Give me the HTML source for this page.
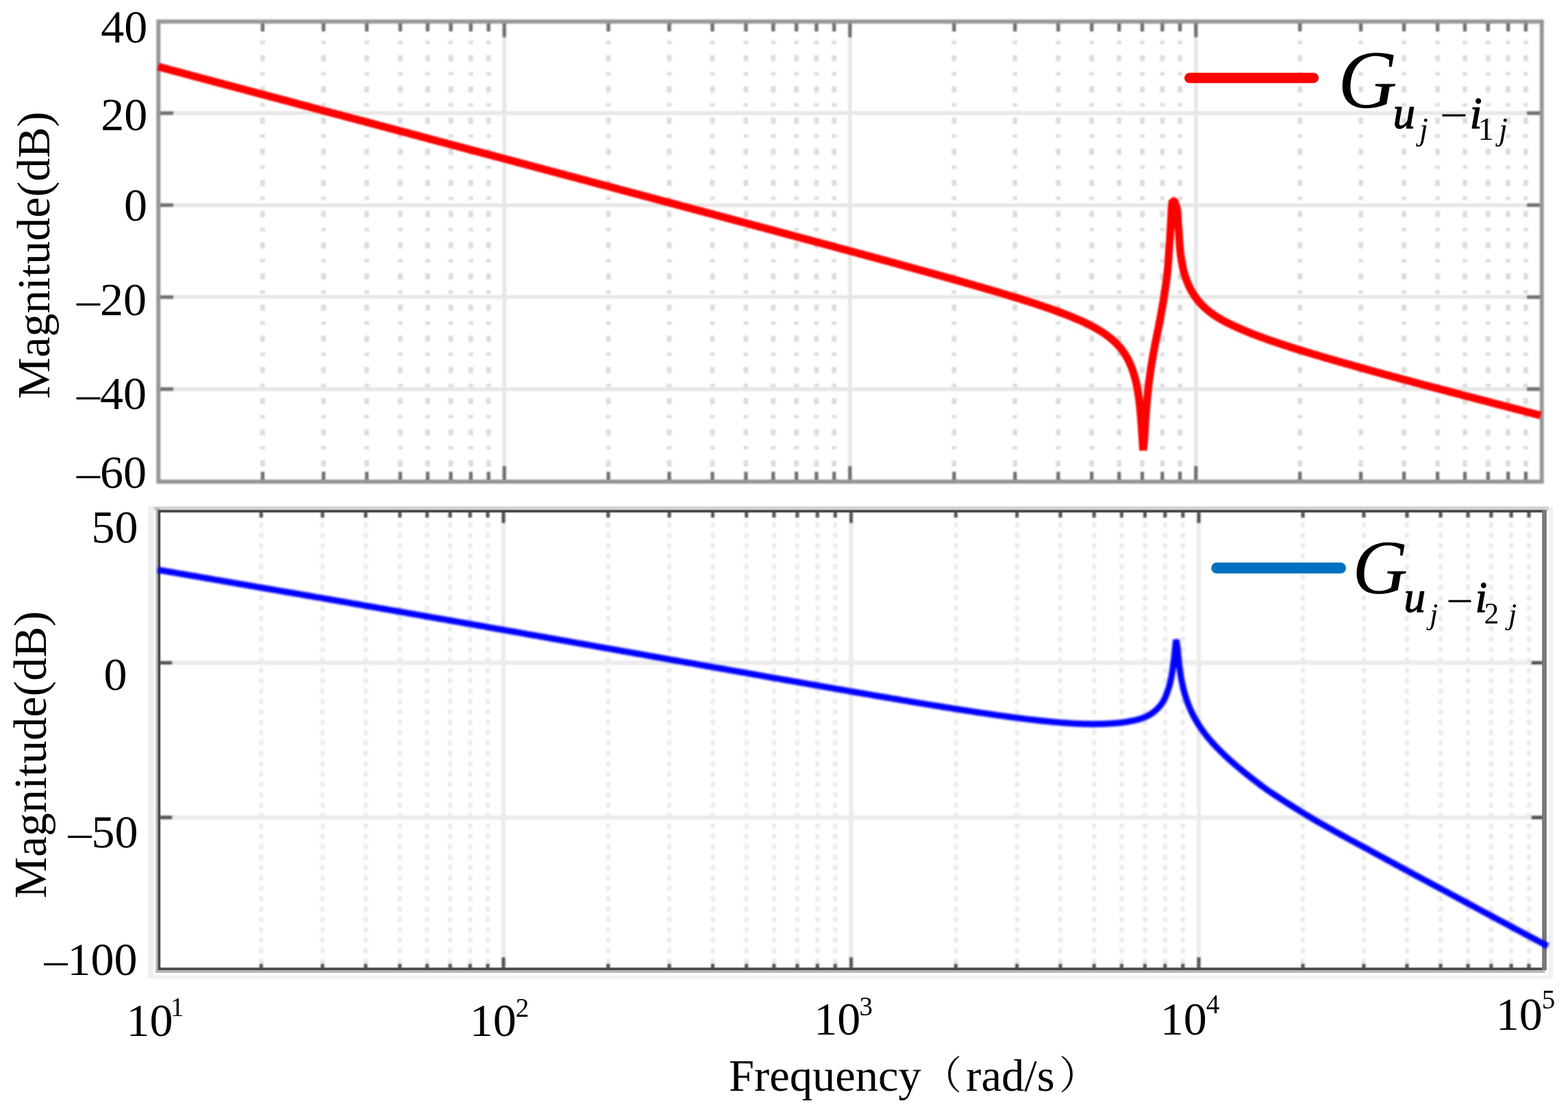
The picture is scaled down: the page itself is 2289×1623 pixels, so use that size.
<!DOCTYPE html>
<html lang="en"><head><meta charset="utf-8"><title>Bode magnitude plots</title>
<style>html,body{margin:0;padding:0;background:#fff}body{width:2289px;height:1623px;overflow:hidden}svg{display:block}</style></head>
<body>
<svg width="2289" height="1623" viewBox="0 0 2289 1623">
<defs><filter id="b1" filterUnits="userSpaceOnUse" x="0" y="0" width="2289" height="1623"><feGaussianBlur stdDeviation="1.3"/></filter><filter id="b2" filterUnits="userSpaceOnUse" x="0" y="0" width="2289" height="1623"><feGaussianBlur stdDeviation="1.0"/></filter><filter id="b3" filterUnits="userSpaceOnUse" x="0" y="0" width="2289" height="1623"><feGaussianBlur stdDeviation="0.6"/></filter><filter id="b4" filterUnits="userSpaceOnUse" x="0" y="0" width="2289" height="1623"><feGaussianBlur stdDeviation="1.6"/></filter></defs>
<rect width="2289" height="1623" fill="#fff"/>
<g filter="url(#b1)">
<g stroke="#dcdcdc" stroke-width="6.8" stroke-dasharray="9 15.5 5 16" stroke-dashoffset="-3.50" fill="none">
<path d="M383.4 31.5V703.0M472.3 31.5V703.0M535.4 31.5V703.0M584.3 31.5V703.0M624.3 31.5V703.0M658.1 31.5V703.0M687.3 31.5V703.0M713.2 31.5V703.0M888.1 31.5V703.0M977.0 31.5V703.0M1040.0 31.5V703.0M1088.9 31.5V703.0M1128.8 31.5V703.0M1162.6 31.5V703.0M1191.9 31.5V703.0M1217.7 31.5V703.0M1392.8 31.5V703.0M1481.7 31.5V703.0M1544.8 31.5V703.0M1593.7 31.5V703.0M1633.7 31.5V703.0M1667.5 31.5V703.0M1696.8 31.5V703.0M1722.6 31.5V703.0M1897.7 31.5V703.0M1986.6 31.5V703.0M2049.6 31.5V703.0M2098.6 31.5V703.0M2138.5 31.5V703.0M2172.3 31.5V703.0M2201.6 31.5V703.0M2227.4 31.5V703.0"/>
</g>
<g stroke="#e6e6e6" stroke-width="5.5" fill="none">
<path d="M736.2 31.5V703.0M1240.8 31.5V703.0M1745.8 31.5V703.0M231.2 165.1H2250.8M231.2 299.4H2250.8M231.2 433.6H2250.8M231.2 567.9H2250.8"/>
</g>
<g stroke="#6e6e6e" stroke-width="5.2" fill="none">
<path d="M383.4 31.5v14.5M383.4 703.0v-14.5M472.3 31.5v14.5M472.3 703.0v-14.5M535.4 31.5v14.5M535.4 703.0v-14.5M584.3 31.5v14.5M584.3 703.0v-14.5M624.3 31.5v14.5M624.3 703.0v-14.5M658.1 31.5v14.5M658.1 703.0v-14.5M687.3 31.5v14.5M687.3 703.0v-14.5M713.2 31.5v14.5M713.2 703.0v-14.5M888.1 31.5v14.5M888.1 703.0v-14.5M977.0 31.5v14.5M977.0 703.0v-14.5M1040.0 31.5v14.5M1040.0 703.0v-14.5M1088.9 31.5v14.5M1088.9 703.0v-14.5M1128.8 31.5v14.5M1128.8 703.0v-14.5M1162.6 31.5v14.5M1162.6 703.0v-14.5M1191.9 31.5v14.5M1191.9 703.0v-14.5M1217.7 31.5v14.5M1217.7 703.0v-14.5M1392.8 31.5v14.5M1392.8 703.0v-14.5M1481.7 31.5v14.5M1481.7 703.0v-14.5M1544.8 31.5v14.5M1544.8 703.0v-14.5M1593.7 31.5v14.5M1593.7 703.0v-14.5M1633.7 31.5v14.5M1633.7 703.0v-14.5M1667.5 31.5v14.5M1667.5 703.0v-14.5M1696.8 31.5v14.5M1696.8 703.0v-14.5M1722.6 31.5v14.5M1722.6 703.0v-14.5M1897.7 31.5v14.5M1897.7 703.0v-14.5M1986.6 31.5v14.5M1986.6 703.0v-14.5M2049.6 31.5v14.5M2049.6 703.0v-14.5M2098.6 31.5v14.5M2098.6 703.0v-14.5M2138.5 31.5v14.5M2138.5 703.0v-14.5M2172.3 31.5v14.5M2172.3 703.0v-14.5M2201.6 31.5v14.5M2201.6 703.0v-14.5M2227.4 31.5v14.5M2227.4 703.0v-14.5M736.2 31.5v23.0M736.2 703.0v-23.0M1240.8 31.5v23.0M1240.8 703.0v-23.0M1745.8 31.5v23.0M1745.8 703.0v-23.0M231.2 165.1h22.0M2250.8 165.1h-22.0M231.2 299.4h22.0M2250.8 299.4h-22.0M231.2 433.6h22.0M2250.8 433.6h-22.0M231.2 567.9h22.0M2250.8 567.9h-22.0"/>
</g>
<rect x="231.25" y="31.50" width="2019.50" height="671.50" fill="none" stroke="#969696" stroke-width="6"/>
</g>
<path d="M230.9 97.3 L234.9 98.4 L238.9 99.5 L242.9 100.5 L246.9 101.6 L250.9 102.7 L254.9 103.7 L258.9 104.8 L262.9 105.8 L266.9 106.9 L270.9 108.0 L274.9 109.0 L278.9 110.1 L282.9 111.2 L286.9 112.2 L290.9 113.3 L294.9 114.4 L298.9 115.4 L302.9 116.5 L306.9 117.5 L310.9 118.6 L314.9 119.7 L318.9 120.7 L322.9 121.8 L326.9 122.9 L330.9 123.9 L334.9 125.0 L338.9 126.1 L342.9 127.1 L346.9 128.2 L350.9 129.3 L354.9 130.3 L358.9 131.4 L362.9 132.4 L366.9 133.5 L370.9 134.6 L374.9 135.6 L378.9 136.7 L382.9 137.8 L386.9 138.8 L390.9 139.9 L394.9 141.0 L398.9 142.0 L402.9 143.1 L406.9 144.1 L410.9 145.2 L414.9 146.3 L418.9 147.3 L422.9 148.4 L426.9 149.5 L430.9 150.5 L434.9 151.6 L438.9 152.7 L442.9 153.7 L446.9 154.8 L450.9 155.8 L454.9 156.9 L458.9 158.0 L462.9 159.0 L466.9 160.1 L470.9 161.2 L474.9 162.2 L478.9 163.3 L482.9 164.4 L486.9 165.4 L490.9 166.5 L494.9 167.6 L498.9 168.6 L502.9 169.7 L506.9 170.7 L510.9 171.8 L515.0 172.9 L519.0 173.9 L523.0 175.0 L527.0 176.1 L531.0 177.1 L535.0 178.2 L539.0 179.3 L543.0 180.3 L547.0 181.4 L551.0 182.4 L555.0 183.5 L559.0 184.6 L563.0 185.6 L567.0 186.7 L571.0 187.8 L575.0 188.8 L579.0 189.9 L583.0 191.0 L587.0 192.0 L591.0 193.1 L595.0 194.1 L599.0 195.2 L603.0 196.3 L607.0 197.3 L611.0 198.4 L615.0 199.5 L619.0 200.5 L623.0 201.6 L627.0 202.7 L631.0 203.7 L635.0 204.8 L639.0 205.9 L643.0 206.9 L647.0 208.0 L651.0 209.0 L655.0 210.1 L659.0 211.2 L663.0 212.2 L667.0 213.3 L671.0 214.4 L675.0 215.4 L679.0 216.5 L683.0 217.6 L687.0 218.6 L691.0 219.7 L695.0 220.7 L699.0 221.8 L703.0 222.9 L707.0 223.9 L711.0 225.0 L715.0 226.1 L719.0 227.1 L723.0 228.2 L727.0 229.3 L731.0 230.3 L735.0 231.4 L739.0 232.5 L743.0 233.5 L747.0 234.6 L751.0 235.6 L755.0 236.7 L759.0 237.8 L763.0 238.8 L767.0 239.9 L771.0 241.0 L775.0 242.0 L779.0 243.1 L783.0 244.2 L787.0 245.2 L791.0 246.3 L795.0 247.4 L799.0 248.4 L803.0 249.5 L807.0 250.6 L811.0 251.6 L815.0 252.7 L819.0 253.7 L823.0 254.8 L827.0 255.9 L831.0 256.9 L835.0 258.0 L839.0 259.1 L843.0 260.1 L847.0 261.2 L851.0 262.3 L855.0 263.3 L859.0 264.4 L863.0 265.5 L867.0 266.5 L871.0 267.6 L875.0 268.7 L879.0 269.7 L883.0 270.8 L887.0 271.8 L891.0 272.9 L895.0 274.0 L899.0 275.0 L903.0 276.1 L907.0 277.2 L911.0 278.2 L915.0 279.3 L919.0 280.4 L923.0 281.4 L927.0 282.5 L931.0 283.6 L935.0 284.6 L939.0 285.7 L943.0 286.8 L947.0 287.8 L951.0 288.9 L955.0 290.0 L959.0 291.0 L963.0 292.1 L967.0 293.2 L971.0 294.2 L975.0 295.3 L979.0 296.3 L983.0 297.4 L987.0 298.5 L991.0 299.5 L995.0 300.6 L999.0 301.7 L1003.0 302.7 L1007.0 303.8 L1011.0 304.9 L1015.0 305.9 L1019.0 307.0 L1023.0 308.1 L1027.0 309.1 L1031.0 310.2 L1035.0 311.3 L1039.0 312.3 L1043.0 313.4 L1047.0 314.5 L1051.0 315.5 L1055.0 316.6 L1059.0 317.7 L1063.0 318.7 L1067.0 319.8 L1071.0 320.9 L1075.0 321.9 L1079.0 323.0 L1083.0 324.1 L1087.0 325.1 L1091.0 326.2 L1095.0 327.3 L1099.0 328.4 L1103.0 329.4 L1107.0 330.5 L1111.0 331.6 L1115.0 332.6 L1119.0 333.7 L1123.0 334.8 L1127.0 335.8 L1131.0 336.9 L1135.0 338.0 L1139.0 339.0 L1143.0 340.1 L1147.0 341.2 L1151.0 342.3 L1155.0 343.3 L1159.0 344.4 L1163.0 345.5 L1167.0 346.5 L1171.0 347.6 L1175.0 348.7 L1179.0 349.8 L1183.0 350.8 L1187.0 351.9 L1191.0 353.0 L1195.0 354.0 L1199.0 355.1 L1203.0 356.2 L1207.0 357.3 L1211.0 358.3 L1215.0 359.4 L1219.0 360.5 L1223.0 361.6 L1227.0 362.7 L1231.0 363.7 L1235.0 364.8 L1239.0 365.9 L1243.0 367.0 L1247.0 368.0 L1251.0 369.1 L1255.0 370.2 L1259.0 371.3 L1263.0 372.4 L1267.0 373.4 L1271.0 374.5 L1275.0 375.6 L1279.0 376.7 L1283.0 377.8 L1287.0 378.9 L1291.0 379.9 L1295.0 381.0 L1299.0 382.1 L1303.0 383.2 L1307.0 384.3 L1311.0 385.4 L1315.0 386.5 L1319.0 387.6 L1323.0 388.7 L1327.0 389.8 L1331.0 390.9 L1335.0 392.0 L1339.0 393.1 L1343.0 394.2 L1347.0 395.3 L1351.0 396.4 L1355.0 397.5 L1359.0 398.6 L1363.0 399.7 L1367.0 400.8 L1371.0 401.9 L1375.0 403.0 L1379.0 404.2 L1383.0 405.3 L1387.0 406.4 L1391.0 407.5 L1395.0 408.7 L1399.0 409.8 L1403.0 410.9 L1407.0 412.1 L1411.0 413.2 L1415.0 414.3 L1419.1 415.5 L1423.1 416.6 L1427.1 417.8 L1431.2 419.0 L1435.2 420.1 L1439.2 421.3 L1443.2 422.5 L1447.3 423.6 L1451.3 424.8 L1455.3 426.0 L1459.3 427.2 L1463.4 428.4 L1467.4 429.6 L1471.4 430.8 L1475.4 432.0 L1479.5 433.3 L1483.5 434.5 L1487.5 435.7 L1491.5 437.0 L1495.6 438.3 L1499.6 439.5 L1503.6 440.8 L1507.6 442.1 L1511.7 443.4 L1515.7 444.8 L1519.7 446.1 L1523.7 447.5 L1527.8 448.9 L1531.8 450.2 L1535.8 451.7 L1539.9 453.1 L1543.9 454.6 L1547.9 456.1 L1551.9 457.6 L1556.0 459.1 L1560.0 460.7 L1564.0 462.3 L1568.0 464.0 L1572.1 465.7 L1576.1 467.4 L1580.1 469.2 L1584.1 471.1 L1588.2 473.1 L1592.2 475.1 L1592.6 475.3 L1593.0 475.5 L1593.4 475.7 L1593.8 475.9 L1594.2 476.1 L1594.6 476.4 L1595.0 476.6 L1595.4 476.8 L1595.8 477.0 L1596.2 477.2 L1596.6 477.4 L1597.0 477.6 L1597.4 477.9 L1597.8 478.1 L1598.2 478.3 L1598.6 478.5 L1599.0 478.8 L1599.4 479.0 L1599.8 479.2 L1600.2 479.4 L1600.6 479.7 L1601.0 479.9 L1601.4 480.1 L1601.8 480.4 L1602.2 480.6 L1602.6 480.8 L1603.0 481.1 L1603.4 481.3 L1603.8 481.5 L1604.2 481.8 L1604.6 482.0 L1605.0 482.3 L1605.4 482.5 L1605.8 482.7 L1606.2 483.0 L1606.6 483.2 L1607.0 483.5 L1607.4 483.7 L1607.8 484.0 L1608.2 484.2 L1608.6 484.5 L1609.0 484.8 L1609.4 485.0 L1609.8 485.3 L1610.2 485.5 L1610.6 485.8 L1611.0 486.1 L1611.4 486.3 L1611.8 486.6 L1612.2 486.9 L1612.6 487.2 L1613.0 487.4 L1613.3 487.7 L1613.7 488.0 L1614.1 488.3 L1614.5 488.5 L1614.9 488.8 L1615.3 489.1 L1615.7 489.4 L1616.1 489.7 L1616.5 490.0 L1616.9 490.3 L1617.3 490.6 L1617.7 490.9 L1618.1 491.2 L1618.5 491.5 L1618.9 491.8 L1619.3 492.1 L1619.7 492.4 L1620.1 492.7 L1620.5 493.1 L1620.9 493.4 L1621.3 493.7 L1621.7 494.0 L1622.1 494.4 L1622.5 494.7 L1622.9 495.0 L1623.3 495.4 L1623.7 495.7 L1624.1 496.1 L1624.5 496.4 L1624.9 496.8 L1625.2 497.1 L1625.6 497.5 L1626.0 497.8 L1626.4 498.2 L1626.8 498.6 L1627.2 499.0 L1627.6 499.3 L1628.0 499.7 L1628.4 500.1 L1628.8 500.5 L1629.2 500.9 L1629.6 501.3 L1630.0 501.7 L1630.4 502.1 L1630.8 502.5 L1631.2 502.9 L1631.6 503.3 L1632.0 503.8 L1632.4 504.2 L1632.8 504.6 L1633.2 505.1 L1633.6 505.5 L1634.0 506.0 L1634.4 506.4 L1634.8 506.9 L1635.2 507.4 L1635.6 507.8 L1636.0 508.3 L1636.4 508.8 L1636.8 509.3 L1637.1 509.8 L1637.5 510.3 L1637.9 510.8 L1638.3 511.4 L1638.7 511.9 L1639.1 512.4 L1639.5 513.0 L1639.9 513.5 L1640.3 514.1 L1640.7 514.7 L1641.1 515.3 L1641.5 515.9 L1641.9 516.5 L1642.3 517.1 L1642.7 517.7 L1643.1 518.3 L1643.5 519.0 L1643.9 519.7 L1644.3 520.3 L1644.7 521.0 L1645.1 521.7 L1645.5 522.4 L1645.9 523.1 L1646.3 523.9 L1646.7 524.6 L1647.1 525.4 L1647.5 526.2 L1647.9 527.0 L1648.1 527.4 L1648.3 527.8 L1648.5 528.2 L1648.7 528.6 L1648.9 529.0 L1649.0 529.5 L1649.2 529.9 L1649.4 530.3 L1649.6 530.8 L1649.8 531.2 L1650.0 531.7 L1650.2 532.1 L1650.4 532.6 L1650.6 533.1 L1650.8 533.6 L1651.0 534.0 L1651.2 534.5 L1651.4 535.0 L1651.6 535.5 L1651.8 536.0 L1652.0 536.5 L1652.2 537.1 L1652.4 537.6 L1652.6 538.1 L1652.8 538.7 L1653.0 539.2 L1653.2 539.8 L1653.4 540.3 L1653.6 540.9 L1653.8 541.5 L1654.0 542.1 L1654.2 542.7 L1654.4 543.3 L1654.6 543.9 L1654.8 544.5 L1655.0 545.2 L1655.2 545.8 L1655.4 546.5 L1655.6 547.1 L1655.8 547.8 L1656.0 548.5 L1656.2 549.2 L1656.4 549.9 L1656.6 550.6 L1656.8 551.3 L1657.0 552.1 L1657.2 552.9 L1657.4 553.6 L1657.6 554.4 L1657.8 555.2 L1658.0 556.0 L1658.2 556.9 L1658.4 557.7 L1658.6 558.6 L1658.8 559.5 L1659.0 560.4 L1659.2 561.3 L1659.4 562.2 L1659.6 563.2 L1659.8 564.2 L1660.0 565.2 L1660.2 566.2 L1660.4 567.2 L1660.6 568.3 L1660.8 569.4 L1660.9 570.5 L1661.1 571.7 L1661.3 572.9 L1661.5 574.1 L1661.7 575.3 L1661.9 576.6 L1662.1 577.9 L1662.3 579.2 L1662.5 580.6 L1662.7 582.0 L1662.9 583.5 L1663.0 585.0 L1663.2 586.5 L1663.4 588.1 L1663.6 589.8 L1663.8 591.5 L1664.0 593.2 L1664.2 595.1 L1664.4 596.9 L1664.6 598.9 L1664.8 600.9 L1664.9 603.0 L1665.1 605.1 L1665.3 607.4 L1665.5 609.7 L1665.7 612.1 L1665.9 614.6 L1666.1 617.2 L1666.3 619.8 L1666.5 622.6 L1666.7 625.5 L1666.9 628.4 L1667.0 631.5 L1667.2 634.5 L1667.4 637.6 L1667.6 640.7 L1668.9 657.2 L1670.4 641.9 L1670.6 638.5 L1670.9 634.9 L1671.1 631.4 L1671.3 627.9 L1671.5 624.4 L1671.7 621.0 L1671.9 617.6 L1672.1 614.4 L1672.3 611.2 L1672.6 608.2 L1672.8 605.2 L1673.0 602.3 L1673.2 599.6 L1673.4 596.9 L1673.6 594.2 L1673.8 591.7 L1674.0 589.2 L1674.3 586.8 L1674.5 584.5 L1674.7 582.2 L1674.9 580.0 L1675.1 577.8 L1675.3 575.7 L1675.5 573.6 L1675.7 571.6 L1675.9 569.7 L1676.2 567.7 L1676.4 565.8 L1676.6 564.0 L1676.8 562.2 L1677.0 560.4 L1677.2 558.7 L1677.4 557.0 L1677.6 555.3 L1677.9 553.7 L1678.1 552.0 L1678.3 550.4 L1678.5 548.9 L1678.7 547.3 L1678.9 545.8 L1679.1 544.3 L1679.3 542.9 L1679.6 541.4 L1679.8 540.0 L1680.0 538.6 L1680.2 537.2 L1680.4 535.8 L1680.6 534.4 L1680.8 533.1 L1681.0 531.7 L1681.3 530.4 L1681.5 529.1 L1681.7 527.8 L1681.9 526.6 L1682.1 525.3 L1682.3 524.0 L1682.5 522.8 L1682.7 521.6 L1682.9 520.4 L1683.2 519.2 L1683.4 518.0 L1683.6 516.8 L1683.8 515.6 L1684.0 514.4 L1684.2 513.3 L1684.4 512.1 L1684.6 511.0 L1684.9 509.8 L1685.1 508.7 L1685.3 507.6 L1685.5 506.5 L1685.7 505.4 L1685.9 504.3 L1686.1 503.2 L1686.3 502.1 L1686.6 501.0 L1686.8 499.9 L1687.0 498.8 L1687.2 497.8 L1687.4 496.7 L1687.6 495.6 L1687.8 494.6 L1688.0 493.5 L1688.3 492.5 L1688.5 491.4 L1688.7 490.4 L1688.9 489.3 L1689.1 488.3 L1689.3 487.3 L1689.5 486.2 L1689.7 485.2 L1689.9 484.2 L1690.2 483.1 L1690.4 482.1 L1690.6 481.1 L1690.8 480.1 L1691.0 479.0 L1691.2 478.0 L1691.4 477.0 L1691.6 476.0 L1691.8 475.0 L1692.0 473.9 L1692.2 472.9 L1692.4 471.9 L1692.6 470.9 L1692.8 469.9 L1693.0 468.8 L1693.2 467.8 L1693.4 466.8 L1693.5 465.8 L1693.7 464.7 L1693.9 463.7 L1694.1 462.7 L1694.3 461.7 L1694.5 460.6 L1694.7 459.6 L1694.9 458.5 L1695.1 457.5 L1695.2 456.5 L1695.4 455.4 L1695.6 454.4 L1695.8 453.3 L1696.0 452.2 L1696.2 451.2 L1696.4 450.1 L1696.6 449.0 L1696.8 448.0 L1697.0 446.9 L1697.1 445.8 L1697.3 444.7 L1697.5 443.6 L1697.7 442.5 L1697.9 441.4 L1698.1 440.3 L1698.3 439.2 L1698.5 438.0 L1698.7 436.9 L1698.8 435.7 L1699.0 434.6 L1699.2 433.4 L1699.4 432.3 L1699.6 431.1 L1699.8 429.9 L1700.0 428.7 L1700.2 427.5 L1700.4 426.3 L1700.5 425.1 L1700.7 423.8 L1700.9 422.6 L1701.1 421.3 L1701.3 420.0 L1701.5 418.7 L1701.7 417.4 L1701.9 416.1 L1702.1 414.8 L1702.2 413.4 L1702.4 412.1 L1702.6 410.7 L1702.8 409.3 L1703.0 407.9 L1703.2 406.4 L1703.4 405.0 L1703.6 403.5 L1703.8 402.0 L1704.0 400.5 L1704.1 398.9 L1704.2 397.4 L1704.4 395.8 L1704.5 394.1 L1704.7 392.5 L1704.8 390.8 L1704.9 389.1 L1705.1 387.4 L1705.2 385.6 L1705.4 383.8 L1705.5 381.9 L1705.6 380.0 L1705.8 378.1 L1705.9 376.1 L1706.1 374.1 L1706.2 372.0 L1706.3 369.9 L1706.5 367.7 L1706.6 365.5 L1706.8 363.2 L1706.9 360.9 L1707.1 358.4 L1707.3 355.9 L1707.5 353.4 L1707.7 350.7 L1707.9 348.0 L1708.1 345.2 L1708.2 342.3 L1708.4 339.3 L1708.6 336.2 L1708.8 333.0 L1709.0 329.7 L1709.2 326.3 L1709.4 322.8 L1709.6 319.3 L1709.7 315.7 L1709.9 312.0 L1710.1 308.4 L1710.3 304.9 L1711.4 293.0 L1714.4 293.4 L1717.9 303.4 L1718.5 306.6 L1718.8 309.8 L1719.0 313.0 L1719.2 316.1 L1719.4 319.2 L1719.6 322.2 L1719.8 325.1 L1720.0 327.9 L1720.2 330.6 L1720.4 333.2 L1720.6 335.7 L1720.8 338.2 L1721.0 340.5 L1721.1 342.7 L1721.2 344.9 L1721.4 347.0 L1721.5 349.0 L1721.7 351.0 L1721.8 352.9 L1721.9 354.7 L1722.1 356.4 L1722.2 358.1 L1722.4 359.8 L1722.5 361.4 L1722.6 363.0 L1722.8 364.5 L1722.9 365.9 L1723.1 367.3 L1723.2 368.7 L1723.4 370.1 L1723.6 371.4 L1723.8 372.7 L1723.9 373.9 L1724.1 375.1 L1724.3 376.3 L1724.5 377.4 L1724.6 378.6 L1724.8 379.7 L1725.0 380.7 L1725.2 381.8 L1725.4 382.8 L1725.5 383.8 L1725.7 384.8 L1725.9 385.7 L1726.1 386.7 L1726.2 387.6 L1726.4 388.5 L1726.6 389.4 L1726.8 390.3 L1726.9 391.1 L1727.1 391.9 L1727.3 392.8 L1727.5 393.6 L1727.6 394.4 L1727.8 395.1 L1728.0 395.9 L1728.2 396.6 L1728.4 397.4 L1728.6 398.1 L1728.8 398.8 L1729.0 399.5 L1729.2 400.2 L1729.4 400.9 L1729.6 401.5 L1729.8 402.2 L1730.0 402.8 L1730.2 403.5 L1730.4 404.1 L1730.6 404.7 L1730.8 405.3 L1731.0 405.9 L1731.2 406.5 L1731.4 407.1 L1731.7 407.6 L1731.9 408.2 L1732.1 408.8 L1732.3 409.3 L1732.5 409.9 L1732.7 410.4 L1732.9 410.9 L1733.1 411.4 L1733.3 411.9 L1733.5 412.5 L1733.7 413.0 L1733.9 413.5 L1734.1 413.9 L1734.3 414.4 L1734.5 414.9 L1734.8 415.4 L1735.0 415.8 L1735.2 416.3 L1735.4 416.7 L1735.6 417.2 L1735.8 417.6 L1736.0 418.1 L1736.2 418.5 L1736.4 418.9 L1736.6 419.4 L1736.8 419.8 L1737.0 420.2 L1737.2 420.6 L1737.4 421.0 L1737.6 421.4 L1737.9 421.8 L1738.3 422.6 L1738.7 423.4 L1739.1 424.1 L1739.5 424.8 L1739.9 425.6 L1740.3 426.3 L1740.7 427.0 L1741.2 427.7 L1741.6 428.3 L1742.0 429.0 L1742.4 429.6 L1742.8 430.3 L1743.2 430.9 L1743.6 431.5 L1744.1 432.1 L1744.5 432.7 L1744.9 433.3 L1745.3 433.9 L1745.7 434.4 L1746.1 435.0 L1746.5 435.5 L1746.9 436.1 L1747.3 436.6 L1747.7 437.1 L1748.1 437.6 L1748.5 438.2 L1748.9 438.7 L1749.3 439.2 L1749.8 439.6 L1750.2 440.1 L1750.6 440.6 L1751.0 441.1 L1751.4 441.5 L1751.8 442.0 L1752.2 442.5 L1752.6 442.9 L1753.0 443.3 L1753.4 443.8 L1753.8 444.2 L1754.2 444.6 L1754.6 445.1 L1755.0 445.5 L1755.5 445.9 L1755.9 446.3 L1756.3 446.7 L1756.7 447.1 L1757.1 447.5 L1757.5 447.9 L1757.9 448.3 L1758.3 448.6 L1758.7 449.0 L1759.1 449.4 L1759.5 449.8 L1759.9 450.1 L1760.3 450.5 L1760.7 450.9 L1761.1 451.2 L1761.5 451.6 L1761.9 451.9 L1762.3 452.2 L1762.7 452.5 L1763.1 452.9 L1763.5 453.2 L1763.9 453.5 L1764.3 453.8 L1764.7 454.1 L1765.0 454.5 L1765.4 454.8 L1765.8 455.1 L1766.2 455.4 L1766.6 455.7 L1767.0 456.0 L1767.4 456.3 L1767.8 456.5 L1768.2 456.8 L1768.5 457.1 L1768.9 457.4 L1769.3 457.7 L1769.7 458.0 L1770.1 458.2 L1770.5 458.5 L1770.9 458.8 L1771.3 459.1 L1771.7 459.3 L1772.0 459.6 L1772.4 459.9 L1772.8 460.1 L1773.2 460.4 L1773.6 460.7 L1774.0 460.9 L1774.4 461.2 L1774.8 461.4 L1775.1 461.7 L1775.5 461.9 L1775.9 462.2 L1776.3 462.4 L1776.7 462.7 L1777.1 462.9 L1777.5 463.2 L1777.9 463.4 L1778.3 463.6 L1778.6 463.9 L1779.0 464.1 L1779.4 464.3 L1779.8 464.6 L1780.2 464.8 L1780.6 465.0 L1781.0 465.3 L1781.4 465.5 L1781.8 465.7 L1782.1 465.9 L1782.5 466.2 L1782.9 466.4 L1783.3 466.6 L1783.7 466.8 L1784.1 467.0 L1784.5 467.3 L1784.9 467.5 L1785.3 467.7 L1785.6 467.9 L1786.0 468.1 L1786.6 468.4 L1787.2 468.7 L1787.8 469.1 L1788.4 469.4 L1789.0 469.7 L1789.5 470.0 L1790.1 470.3 L1790.7 470.6 L1791.3 470.9 L1791.9 471.2 L1792.5 471.5 L1793.0 471.7 L1793.6 472.0 L1794.2 472.3 L1794.8 472.6 L1795.4 472.9 L1796.0 473.2 L1796.5 473.4 L1797.1 473.7 L1797.7 474.0 L1798.3 474.3 L1798.9 474.5 L1799.5 474.8 L1800.0 475.1 L1800.6 475.3 L1801.2 475.6 L1801.8 475.9 L1802.4 476.1 L1803.0 476.4 L1807.0 478.3 L1810.9 480.0 L1814.8 481.7 L1818.7 483.3 L1822.5 484.9 L1826.4 486.5 L1830.3 488.0 L1834.2 489.5 L1838.1 491.0 L1841.9 492.4 L1845.8 493.8 L1849.7 495.2 L1853.6 496.6 L1857.5 497.9 L1861.3 499.2 L1865.2 500.5 L1869.1 501.8 L1873.0 503.1 L1876.9 504.4 L1880.7 505.6 L1884.6 506.9 L1888.5 508.1 L1892.4 509.3 L1896.3 510.5 L1900.2 511.7 L1904.2 513.0 L1908.2 514.2 L1912.2 515.4 L1916.2 516.6 L1920.2 517.8 L1924.2 518.9 L1928.2 520.1 L1932.2 521.3 L1936.2 522.5 L1940.2 523.6 L1944.2 524.8 L1948.2 525.9 L1952.2 527.1 L1956.2 528.2 L1960.2 529.4 L1964.2 530.5 L1968.2 531.6 L1972.2 532.7 L1976.2 533.9 L1980.2 535.0 L1984.2 536.1 L1988.2 537.2 L1992.2 538.3 L1996.2 539.5 L2000.2 540.6 L2004.2 541.7 L2008.2 542.8 L2012.2 543.9 L2016.2 545.0 L2020.2 546.1 L2024.2 547.2 L2028.2 548.3 L2032.2 549.4 L2036.2 550.4 L2040.2 551.5 L2044.2 552.6 L2048.2 553.7 L2052.2 554.8 L2056.2 555.8 L2060.2 556.9 L2064.2 558.0 L2068.2 559.0 L2072.2 560.1 L2076.2 561.2 L2080.2 562.2 L2084.2 563.3 L2088.2 564.3 L2092.2 565.4 L2096.2 566.4 L2100.2 567.5 L2104.2 568.5 L2108.2 569.6 L2112.2 570.6 L2116.2 571.7 L2120.2 572.7 L2124.2 573.8 L2128.2 574.8 L2132.2 575.9 L2136.2 576.9 L2140.2 578.0 L2144.2 579.0 L2148.2 580.1 L2152.2 581.1 L2156.2 582.2 L2160.2 583.2 L2164.2 584.3 L2168.2 585.3 L2172.2 586.3 L2176.2 587.4 L2180.2 588.4 L2184.2 589.5 L2188.2 590.5 L2192.2 591.5 L2196.2 592.6 L2200.2 593.6 L2204.2 594.7 L2208.2 595.7 L2212.2 596.7 L2216.2 597.8 L2220.2 598.8 L2224.2 599.9 L2228.2 600.9 L2232.2 601.9 L2236.2 603.0 L2240.2 604.0 L2244.2 605.1 L2248.2 606.1 L2249.2 606.3" fill="none" stroke="#ff0000" stroke-width="11.3" stroke-linejoin="bevel" filter="url(#b2)"/>
<g filter="url(#b3)">
<path d="M216 739H224.2V1423.7H2260.8V739H2267.2V1428H216Z" fill="#f0f0f0"/>
<rect x="224.2" y="739.2" width="2036.6" height="6" fill="#d2d2d2"/>
<rect x="227.4" y="741" width="6" height="679" fill="#b6b6b6"/>
<rect x="227.4" y="1412" width="2028" height="8" fill="#b8b8b8"/>
<rect x="232.40" y="746.10" width="2022.10" height="668.00" fill="#fff"/>
</g>
<g filter="url(#b1)">
<g stroke="#ebebeb" stroke-width="6.2" stroke-dasharray="7.5 7.65" stroke-dashoffset="-1.35" fill="none">
<path d="M381.3 746.1V1414.1M470.8 746.1V1414.1M533.8 746.1V1414.1M583.7 746.1V1414.1M623.5 746.1V1414.1M657.1 746.1V1414.1M686.3 746.1V1414.1M712.0 746.1V1414.1M887.8 746.1V1414.1M977.1 746.1V1414.1M1040.5 746.1V1414.1M1089.7 746.1V1414.1M1129.9 746.1V1414.1M1163.9 746.1V1414.1M1193.3 746.1V1414.1M1219.3 746.1V1414.1M1395.3 746.1V1414.1M1484.6 746.1V1414.1M1548.0 746.1V1414.1M1597.2 746.1V1414.1M1637.4 746.1V1414.1M1671.4 746.1V1414.1M1700.8 746.1V1414.1M1726.8 746.1V1414.1M1902.0 746.1V1414.1M1990.9 746.1V1414.1M2054.0 746.1V1414.1M2103.0 746.1V1414.1M2143.0 746.1V1414.1M2176.8 746.1V1414.1M2206.1 746.1V1414.1M2231.9 746.1V1414.1"/>
</g>
<g stroke="#ebebeb" stroke-width="6.2" fill="none">
<path d="M735.0 746.1V1414.1M1242.5 746.1V1414.1M1750.0 746.1V1414.1M232.4 967.3H2254.5M232.4 1193.2H2254.5"/>
</g>
<g stroke="#505050" stroke-width="5.2" fill="none">
<path d="M381.3 746.1v9.5M381.3 1414.1v-7.5M470.8 746.1v9.5M470.8 1414.1v-7.5M533.8 746.1v9.5M533.8 1414.1v-7.5M583.7 746.1v9.5M583.7 1414.1v-7.5M623.5 746.1v9.5M623.5 1414.1v-7.5M657.1 746.1v9.5M657.1 1414.1v-7.5M686.3 746.1v9.5M686.3 1414.1v-7.5M712.0 746.1v9.5M712.0 1414.1v-7.5M887.8 746.1v9.5M887.8 1414.1v-7.5M977.1 746.1v9.5M977.1 1414.1v-7.5M1040.5 746.1v9.5M1040.5 1414.1v-7.5M1089.7 746.1v9.5M1089.7 1414.1v-7.5M1129.9 746.1v9.5M1129.9 1414.1v-7.5M1163.9 746.1v9.5M1163.9 1414.1v-7.5M1193.3 746.1v9.5M1193.3 1414.1v-7.5M1219.3 746.1v9.5M1219.3 1414.1v-7.5M1395.3 746.1v9.5M1395.3 1414.1v-7.5M1484.6 746.1v9.5M1484.6 1414.1v-7.5M1548.0 746.1v9.5M1548.0 1414.1v-7.5M1597.2 746.1v9.5M1597.2 1414.1v-7.5M1637.4 746.1v9.5M1637.4 1414.1v-7.5M1671.4 746.1v9.5M1671.4 1414.1v-7.5M1700.8 746.1v9.5M1700.8 1414.1v-7.5M1726.8 746.1v9.5M1726.8 1414.1v-7.5M1902.0 746.1v9.5M1902.0 1414.1v-7.5M1990.9 746.1v9.5M1990.9 1414.1v-7.5M2054.0 746.1v9.5M2054.0 1414.1v-7.5M2103.0 746.1v9.5M2103.0 1414.1v-7.5M2143.0 746.1v9.5M2143.0 1414.1v-7.5M2176.8 746.1v9.5M2176.8 1414.1v-7.5M2206.1 746.1v9.5M2206.1 1414.1v-7.5M2231.9 746.1v9.5M2231.9 1414.1v-7.5M735.0 746.1v17.5M735.0 1414.1v-17.0M1242.5 746.1v17.5M1242.5 1414.1v-17.0M1750.0 746.1v17.5M1750.0 1414.1v-17.0M232.4 967.3h19.0M2254.5 967.3h-19.0M232.4 1193.2h19.0M2254.5 1193.2h-19.0"/>
</g>
</g>
<g filter="url(#b3)" fill="none">
<path d="M232.40 1415.95 V746.10 H2254.50 M232.40 1414.10 H2254.50" stroke="#4c4c4c" stroke-width="3.7"/>
<path d="M2254.50 744.25 V1415.95" stroke="#787878" stroke-width="6.7"/>
</g>
<path d="M230.5 831.7 L234.5 832.4 L238.5 833.1 L242.5 833.8 L246.5 834.4 L250.5 835.1 L254.5 835.8 L258.5 836.5 L262.5 837.2 L266.5 837.9 L270.5 838.6 L274.5 839.3 L278.5 840.0 L282.5 840.6 L286.5 841.3 L290.5 842.0 L294.5 842.7 L298.5 843.4 L302.5 844.1 L306.5 844.8 L310.5 845.5 L314.5 846.2 L318.5 846.8 L322.5 847.5 L326.5 848.2 L330.5 848.9 L334.5 849.6 L338.5 850.3 L342.5 851.0 L346.5 851.7 L350.5 852.4 L354.5 853.0 L358.5 853.7 L362.5 854.4 L366.5 855.1 L370.5 855.8 L374.5 856.5 L378.5 857.2 L382.5 857.9 L386.5 858.6 L390.5 859.2 L394.5 859.9 L398.5 860.6 L402.5 861.3 L406.5 862.0 L410.5 862.7 L414.5 863.4 L418.5 864.1 L422.5 864.8 L426.5 865.4 L430.5 866.1 L434.5 866.8 L438.5 867.5 L442.5 868.2 L446.5 868.9 L450.5 869.6 L454.5 870.3 L458.5 871.0 L462.5 871.7 L466.5 872.3 L470.5 873.0 L474.5 873.7 L478.5 874.4 L482.5 875.1 L486.5 875.8 L490.5 876.5 L494.5 877.2 L498.5 877.9 L502.5 878.5 L506.5 879.3 L510.5 880.0 L514.5 880.7 L518.5 881.4 L522.5 882.1 L526.5 882.8 L530.5 883.5 L534.5 884.2 L538.5 884.9 L542.5 885.6 L546.5 886.3 L550.5 887.0 L554.5 887.7 L558.5 888.4 L562.5 889.1 L566.5 889.8 L570.5 890.5 L574.5 891.2 L578.5 891.9 L582.5 892.6 L586.5 893.3 L590.5 894.0 L594.5 894.7 L598.5 895.4 L602.5 896.1 L606.5 896.8 L610.5 897.5 L614.5 898.2 L618.5 898.9 L622.5 899.6 L626.5 900.3 L630.5 901.0 L634.5 901.7 L638.5 902.4 L642.5 903.1 L646.5 903.8 L650.5 904.5 L654.5 905.2 L658.5 905.9 L662.5 906.6 L666.5 907.3 L670.5 908.0 L674.5 908.7 L678.5 909.4 L682.5 910.1 L686.5 910.8 L690.5 911.5 L694.5 912.2 L698.5 912.9 L702.5 913.6 L706.5 914.3 L710.5 915.0 L714.5 915.7 L718.5 916.5 L722.5 917.2 L726.5 917.9 L730.5 918.6 L734.5 919.3 L738.5 920.0 L742.5 920.7 L746.5 921.4 L750.5 922.1 L754.5 922.8 L758.5 923.5 L762.5 924.2 L766.5 924.9 L770.5 925.7 L774.5 926.4 L778.5 927.1 L782.5 927.8 L786.5 928.5 L790.5 929.2 L794.5 929.9 L798.5 930.6 L802.5 931.4 L806.5 932.1 L810.5 932.8 L814.5 933.5 L818.5 934.2 L822.5 934.9 L826.5 935.6 L830.5 936.3 L834.5 937.1 L838.5 937.8 L842.5 938.5 L846.5 939.2 L850.5 939.9 L854.5 940.6 L858.5 941.3 L862.5 942.0 L866.5 942.7 L870.5 943.5 L874.5 944.2 L878.5 944.9 L882.5 945.6 L886.5 946.3 L890.5 947.0 L894.5 947.7 L898.5 948.4 L902.5 949.1 L906.5 949.9 L910.5 950.6 L914.5 951.3 L918.5 952.0 L922.5 952.7 L926.5 953.4 L930.5 954.1 L934.5 954.8 L938.5 955.5 L942.5 956.3 L946.5 957.0 L950.5 957.7 L954.5 958.4 L958.5 959.1 L962.5 959.8 L966.5 960.5 L970.5 961.2 L974.5 961.9 L978.5 962.7 L982.5 963.4 L986.5 964.1 L990.5 964.8 L994.5 965.5 L998.5 966.2 L1002.5 966.9 L1006.5 967.6 L1010.5 968.3 L1014.5 969.0 L1018.5 969.8 L1022.5 970.5 L1026.5 971.2 L1030.5 971.9 L1034.5 972.6 L1038.5 973.3 L1042.5 974.0 L1046.5 974.7 L1050.5 975.4 L1054.5 976.1 L1058.5 976.8 L1062.5 977.6 L1066.5 978.3 L1070.5 979.0 L1074.5 979.7 L1078.5 980.4 L1082.5 981.1 L1086.5 981.8 L1090.5 982.5 L1094.5 983.2 L1098.5 983.9 L1102.5 984.6 L1106.5 985.3 L1110.5 986.0 L1114.5 986.8 L1118.5 987.5 L1122.5 988.2 L1126.5 988.9 L1130.5 989.6 L1134.5 990.3 L1138.5 991.0 L1142.5 991.7 L1146.5 992.4 L1150.5 993.1 L1154.5 993.8 L1158.5 994.5 L1162.5 995.2 L1166.5 995.9 L1170.5 996.6 L1174.5 997.3 L1178.5 998.0 L1182.5 998.7 L1186.5 999.4 L1190.5 1000.1 L1194.5 1000.8 L1198.5 1001.5 L1202.5 1002.2 L1206.5 1002.9 L1210.5 1003.6 L1214.5 1004.3 L1218.5 1005.0 L1222.5 1005.7 L1226.5 1006.4 L1230.5 1007.1 L1234.5 1007.8 L1238.5 1008.5 L1242.5 1009.2 L1246.5 1009.9 L1250.5 1010.6 L1254.5 1011.3 L1258.5 1011.9 L1262.5 1012.6 L1266.5 1013.3 L1270.5 1014.0 L1274.5 1014.7 L1278.5 1015.4 L1282.5 1016.1 L1286.5 1016.7 L1290.5 1017.4 L1294.5 1018.1 L1298.5 1018.8 L1302.5 1019.5 L1306.5 1020.1 L1310.5 1020.8 L1314.5 1021.5 L1318.5 1022.2 L1322.5 1022.8 L1326.5 1023.5 L1330.5 1024.2 L1334.5 1024.9 L1338.5 1025.5 L1342.5 1026.2 L1346.5 1026.8 L1350.5 1027.5 L1354.5 1028.2 L1358.5 1028.8 L1362.5 1029.5 L1366.5 1030.1 L1370.5 1030.8 L1374.5 1031.4 L1378.5 1032.1 L1382.5 1032.7 L1386.5 1033.3 L1390.5 1034.0 L1394.5 1034.6 L1398.5 1035.2 L1402.5 1035.9 L1406.5 1036.5 L1410.5 1037.1 L1414.5 1037.7 L1418.5 1038.3 L1422.5 1039.0 L1426.5 1039.6 L1430.5 1040.2 L1434.5 1040.8 L1438.5 1041.3 L1442.5 1041.9 L1446.5 1042.5 L1450.5 1043.1 L1454.5 1043.7 L1458.5 1044.2 L1462.5 1044.8 L1466.5 1045.3 L1470.5 1045.9 L1474.5 1046.4 L1478.5 1047.0 L1482.5 1047.5 L1486.5 1048.0 L1490.5 1048.5 L1494.5 1049.0 L1498.5 1049.5 L1502.5 1050.0 L1506.5 1050.4 L1510.5 1050.9 L1514.5 1051.4 L1518.5 1051.8 L1522.5 1052.2 L1526.5 1052.6 L1530.5 1053.0 L1534.5 1053.4 L1538.5 1053.8 L1542.5 1054.1 L1546.5 1054.5 L1550.5 1054.8 L1554.5 1055.1 L1558.5 1055.4 L1562.5 1055.6 L1566.5 1055.9 L1570.5 1056.1 L1574.5 1056.3 L1578.5 1056.4 L1582.5 1056.6 L1586.5 1056.7 L1590.5 1056.7 L1594.5 1056.8 L1598.5 1056.8 L1602.5 1056.7 L1603.1 1056.7 L1603.7 1056.7 L1604.3 1056.7 L1604.9 1056.7 L1605.5 1056.7 L1606.1 1056.7 L1606.7 1056.6 L1607.3 1056.6 L1607.9 1056.6 L1608.5 1056.6 L1609.1 1056.6 L1609.7 1056.5 L1610.3 1056.5 L1610.9 1056.5 L1611.5 1056.5 L1612.1 1056.4 L1612.7 1056.4 L1613.3 1056.4 L1613.9 1056.4 L1614.5 1056.3 L1615.1 1056.3 L1615.7 1056.3 L1616.3 1056.2 L1616.9 1056.2 L1617.5 1056.2 L1618.1 1056.1 L1618.7 1056.1 L1619.3 1056.0 L1619.9 1056.0 L1620.5 1056.0 L1621.1 1055.9 L1621.7 1055.9 L1622.3 1055.9 L1622.9 1055.9 L1623.5 1055.8 L1624.1 1055.8 L1624.7 1055.8 L1625.3 1055.7 L1625.9 1055.7 L1626.5 1055.6 L1627.1 1055.6 L1627.7 1055.6 L1628.3 1055.5 L1628.9 1055.5 L1629.5 1055.4 L1630.1 1055.4 L1630.7 1055.3 L1631.3 1055.3 L1631.9 1055.2 L1632.5 1055.2 L1633.1 1055.1 L1633.7 1055.0 L1634.3 1055.0 L1634.9 1054.9 L1635.5 1054.8 L1636.1 1054.8 L1636.7 1054.7 L1637.3 1054.6 L1637.9 1054.6 L1638.5 1054.5 L1639.1 1054.4 L1639.7 1054.3 L1640.3 1054.2 L1640.9 1054.2 L1641.5 1054.1 L1642.1 1054.0 L1642.7 1053.9 L1643.3 1053.8 L1643.9 1053.7 L1644.5 1053.6 L1645.1 1053.5 L1645.7 1053.4 L1646.3 1053.3 L1646.9 1053.2 L1647.5 1053.1 L1648.1 1052.9 L1648.7 1052.8 L1649.3 1052.7 L1649.9 1052.6 L1650.5 1052.5 L1651.1 1052.4 L1651.7 1052.3 L1652.3 1052.2 L1652.9 1052.1 L1653.5 1051.9 L1654.1 1051.8 L1654.7 1051.7 L1655.3 1051.6 L1655.9 1051.5 L1656.5 1051.3 L1657.1 1051.2 L1657.7 1051.0 L1658.3 1050.9 L1658.9 1050.8 L1659.5 1050.6 L1660.1 1050.5 L1660.7 1050.3 L1661.3 1050.1 L1661.9 1050.0 L1662.5 1049.8 L1663.1 1049.6 L1663.7 1049.4 L1664.3 1049.2 L1664.9 1049.1 L1665.5 1048.9 L1666.1 1048.7 L1666.7 1048.5 L1667.3 1048.2 L1667.9 1048.0 L1668.5 1047.8 L1669.1 1047.6 L1669.7 1047.3 L1670.3 1047.1 L1670.9 1046.8 L1671.5 1046.6 L1672.1 1046.3 L1672.7 1046.1 L1673.3 1045.8 L1673.9 1045.5 L1674.5 1045.2 L1675.1 1044.9 L1675.5 1044.7 L1675.9 1044.5 L1676.3 1044.3 L1676.7 1044.1 L1677.1 1043.9 L1677.5 1043.7 L1677.9 1043.4 L1678.3 1043.2 L1678.7 1043.0 L1679.1 1042.7 L1679.5 1042.5 L1679.9 1042.3 L1680.3 1042.0 L1680.7 1041.7 L1681.1 1041.5 L1681.5 1041.2 L1681.9 1040.9 L1682.3 1040.6 L1682.7 1040.3 L1683.1 1040.1 L1683.5 1039.8 L1683.9 1039.4 L1684.3 1039.1 L1684.7 1038.8 L1685.1 1038.5 L1685.5 1038.2 L1685.9 1037.8 L1686.3 1037.5 L1686.7 1037.2 L1687.1 1036.8 L1687.5 1036.4 L1687.9 1036.1 L1688.3 1035.7 L1688.7 1035.3 L1689.1 1034.9 L1689.5 1034.5 L1689.9 1034.1 L1690.3 1033.7 L1690.7 1033.3 L1691.1 1032.9 L1691.5 1032.4 L1691.9 1032.0 L1692.3 1031.5 L1692.7 1031.1 L1693.1 1030.6 L1693.5 1030.1 L1693.9 1029.6 L1694.3 1029.1 L1694.7 1028.6 L1695.1 1028.0 L1695.5 1027.5 L1695.9 1026.9 L1696.3 1026.3 L1696.7 1025.8 L1697.1 1025.2 L1697.5 1024.5 L1697.9 1023.9 L1698.3 1023.2 L1698.7 1022.4 L1699.1 1021.7 L1699.5 1020.9 L1699.7 1020.5 L1699.9 1020.1 L1700.1 1019.7 L1700.3 1019.3 L1700.5 1018.8 L1700.7 1018.4 L1700.9 1018.0 L1701.1 1017.5 L1701.3 1017.1 L1701.5 1016.6 L1701.7 1016.2 L1701.9 1015.7 L1702.1 1015.3 L1702.3 1014.8 L1702.5 1014.3 L1702.7 1013.8 L1702.9 1013.3 L1703.1 1012.8 L1703.3 1012.3 L1703.5 1011.8 L1703.7 1011.3 L1703.9 1010.7 L1704.1 1010.2 L1704.3 1009.6 L1704.5 1009.1 L1704.7 1008.5 L1704.9 1007.9 L1705.1 1007.3 L1705.3 1006.7 L1705.5 1006.1 L1705.7 1005.5 L1705.9 1004.9 L1706.1 1004.2 L1706.3 1003.6 L1706.5 1002.9 L1706.7 1002.3 L1706.9 1001.6 L1707.1 1000.8 L1707.3 1000.1 L1707.5 999.3 L1707.7 998.4 L1707.9 997.6 L1708.1 996.8 L1708.3 995.9 L1708.5 995.0 L1708.7 994.1 L1708.9 993.2 L1709.1 992.3 L1709.3 991.4 L1709.5 990.4 L1709.7 989.4 L1709.9 988.4 L1710.1 987.3 L1710.3 986.3 L1710.5 985.2 L1710.7 984.0 L1710.9 982.9 L1711.1 981.7 L1711.3 980.5 L1711.5 979.2 L1711.7 978.0 L1711.9 976.6 L1712.1 975.3 L1712.3 973.9 L1712.5 972.4 L1712.7 971.0 L1712.9 969.4 L1713.1 967.9 L1713.3 966.3 L1713.5 964.7 L1713.7 963.1 L1713.9 961.4 L1714.1 959.6 L1714.3 957.8 L1714.5 955.9 L1714.7 953.9 L1714.9 951.9 L1715.1 949.8 L1715.3 947.7 L1716.9 933.4 L1719.1 946.3 L1719.3 948.6 L1719.5 950.9 L1719.7 953.1 L1719.9 955.3 L1720.1 957.4 L1720.3 959.5 L1720.5 961.4 L1720.7 963.4 L1720.9 965.2 L1721.1 967.0 L1721.3 968.8 L1721.5 970.5 L1721.7 972.1 L1721.9 973.7 L1722.1 975.2 L1722.3 976.7 L1722.5 978.2 L1722.7 979.6 L1722.9 981.0 L1723.1 982.3 L1723.3 983.6 L1723.5 984.8 L1723.7 986.1 L1723.9 987.3 L1724.1 988.4 L1724.3 989.6 L1724.5 990.7 L1724.7 991.8 L1724.9 992.8 L1725.1 993.9 L1725.3 994.9 L1725.5 995.9 L1725.7 996.9 L1725.9 997.8 L1726.1 998.8 L1726.3 999.7 L1726.5 1000.6 L1726.7 1001.5 L1726.9 1002.4 L1727.1 1003.2 L1727.3 1004.1 L1727.5 1004.9 L1727.7 1005.7 L1727.9 1006.5 L1728.1 1007.3 L1728.3 1008.1 L1728.5 1008.8 L1728.7 1009.6 L1728.9 1010.3 L1729.1 1011.0 L1729.3 1011.7 L1729.5 1012.5 L1729.7 1013.1 L1729.9 1013.8 L1730.1 1014.5 L1730.3 1015.2 L1730.5 1015.8 L1730.7 1016.5 L1730.9 1017.1 L1731.1 1017.8 L1731.3 1018.4 L1731.5 1019.0 L1731.7 1019.6 L1731.9 1020.2 L1732.1 1020.8 L1732.3 1021.4 L1732.5 1022.0 L1732.7 1022.6 L1732.9 1023.2 L1733.1 1023.7 L1733.3 1024.3 L1733.5 1024.8 L1733.7 1025.4 L1733.9 1025.9 L1734.1 1026.5 L1734.3 1027.0 L1734.5 1027.5 L1734.7 1028.0 L1734.9 1028.5 L1735.1 1029.1 L1735.3 1029.6 L1735.5 1030.1 L1735.7 1030.6 L1735.9 1031.1 L1736.1 1031.5 L1736.3 1032.0 L1736.5 1032.5 L1736.7 1033.0 L1736.9 1033.4 L1737.1 1033.9 L1737.3 1034.4 L1737.5 1034.8 L1737.7 1035.3 L1737.9 1035.7 L1738.1 1036.2 L1738.3 1036.6 L1738.5 1037.1 L1738.7 1037.5 L1738.9 1037.9 L1739.1 1038.4 L1739.3 1038.8 L1739.5 1039.2 L1739.7 1039.6 L1739.9 1040.1 L1740.1 1040.5 L1740.3 1040.9 L1740.5 1041.3 L1740.7 1041.7 L1740.9 1042.1 L1741.1 1042.5 L1741.5 1043.3 L1741.9 1044.1 L1742.3 1044.9 L1742.7 1045.6 L1743.1 1046.4 L1743.5 1047.1 L1743.9 1047.9 L1744.3 1048.6 L1744.7 1049.3 L1745.1 1050.0 L1745.5 1050.7 L1745.9 1051.4 L1746.3 1052.1 L1746.7 1052.8 L1747.1 1053.4 L1747.5 1054.1 L1747.9 1054.8 L1748.3 1055.4 L1748.7 1056.1 L1749.1 1056.7 L1749.5 1057.3 L1749.9 1058.0 L1750.3 1058.6 L1750.7 1059.2 L1751.1 1059.8 L1751.5 1060.4 L1751.9 1061.0 L1752.3 1061.6 L1752.7 1062.2 L1753.1 1062.8 L1753.5 1063.4 L1753.9 1063.9 L1754.3 1064.5 L1754.7 1065.1 L1755.1 1065.6 L1755.5 1066.2 L1755.9 1066.8 L1756.3 1067.3 L1756.7 1067.9 L1757.1 1068.4 L1757.5 1068.9 L1757.9 1069.5 L1758.3 1070.0 L1758.7 1070.5 L1759.1 1071.0 L1759.5 1071.6 L1759.9 1072.1 L1760.3 1072.6 L1760.7 1073.1 L1761.1 1073.6 L1761.5 1074.1 L1761.9 1074.6 L1762.3 1075.1 L1762.7 1075.6 L1763.1 1076.1 L1763.5 1076.6 L1763.9 1077.1 L1764.3 1077.5 L1764.7 1078.0 L1765.1 1078.5 L1765.5 1079.0 L1765.9 1079.4 L1766.3 1079.9 L1766.7 1080.4 L1767.1 1080.8 L1767.5 1081.3 L1767.9 1081.8 L1768.3 1082.2 L1768.7 1082.7 L1769.1 1083.1 L1769.5 1083.6 L1769.9 1084.0 L1770.3 1084.5 L1770.7 1084.9 L1771.1 1085.3 L1771.5 1085.8 L1771.9 1086.2 L1772.3 1086.6 L1772.7 1087.1 L1773.1 1087.5 L1773.5 1087.9 L1773.9 1088.4 L1774.3 1088.8 L1774.7 1089.2 L1775.1 1089.6 L1775.5 1090.0 L1775.9 1090.5 L1776.3 1090.9 L1776.7 1091.3 L1777.1 1091.7 L1777.5 1092.1 L1777.9 1092.5 L1778.3 1092.9 L1778.7 1093.3 L1779.1 1093.7 L1779.5 1094.1 L1779.9 1094.5 L1780.3 1094.9 L1780.7 1095.3 L1781.1 1095.7 L1781.5 1096.1 L1781.9 1096.5 L1782.3 1096.9 L1782.7 1097.3 L1783.1 1097.7 L1783.5 1098.1 L1783.9 1098.5 L1784.3 1098.9 L1784.7 1099.3 L1785.1 1099.7 L1785.5 1100.1 L1785.9 1100.5 L1786.3 1100.9 L1786.7 1101.2 L1787.1 1101.6 L1787.5 1102.0 L1787.9 1102.4 L1788.3 1102.8 L1788.7 1103.1 L1789.1 1103.5 L1789.5 1103.9 L1789.9 1104.3 L1790.3 1104.6 L1790.7 1105.0 L1791.1 1105.4 L1791.5 1105.8 L1791.9 1106.1 L1792.3 1106.5 L1792.7 1106.9 L1793.1 1107.2 L1793.5 1107.6 L1793.9 1108.0 L1794.3 1108.3 L1794.7 1108.7 L1795.1 1109.0 L1795.5 1109.4 L1795.9 1109.8 L1796.3 1110.1 L1796.7 1110.5 L1797.1 1110.8 L1797.5 1111.2 L1797.9 1111.5 L1798.3 1111.9 L1798.7 1112.2 L1799.1 1112.6 L1799.5 1112.9 L1799.9 1113.3 L1800.3 1113.6 L1800.7 1114.0 L1801.1 1114.3 L1801.5 1114.7 L1801.9 1115.0 L1802.3 1115.4 L1802.7 1115.7 L1803.1 1116.1 L1803.5 1116.4 L1803.9 1116.7 L1804.3 1117.1 L1804.7 1117.4 L1805.1 1117.8 L1805.5 1118.1 L1805.9 1118.4 L1806.3 1118.8 L1806.7 1119.1 L1807.1 1119.4 L1807.5 1119.8 L1807.9 1120.1 L1808.3 1120.4 L1808.7 1120.8 L1809.1 1121.1 L1809.5 1121.4 L1809.9 1121.8 L1810.3 1122.1 L1810.7 1122.4 L1811.1 1122.8 L1811.5 1123.1 L1811.9 1123.4 L1812.3 1123.8 L1812.7 1124.1 L1813.1 1124.4 L1813.5 1124.8 L1813.9 1125.1 L1814.3 1125.4 L1814.7 1125.8 L1815.1 1126.1 L1815.5 1126.4 L1815.9 1126.8 L1816.3 1127.1 L1816.7 1127.4 L1817.1 1127.7 L1817.5 1128.1 L1817.9 1128.4 L1818.3 1128.7 L1818.7 1129.0 L1819.1 1129.4 L1819.5 1129.7 L1819.9 1130.0 L1820.3 1130.3 L1820.7 1130.7 L1821.1 1131.0 L1821.5 1131.3 L1821.9 1131.6 L1822.3 1131.9 L1822.7 1132.3 L1823.1 1132.6 L1823.5 1132.9 L1823.9 1133.2 L1824.3 1133.5 L1824.7 1133.8 L1825.1 1134.2 L1825.5 1134.5 L1825.9 1134.8 L1826.3 1135.1 L1826.7 1135.4 L1827.1 1135.7 L1827.5 1136.0 L1827.9 1136.4 L1828.3 1136.7 L1828.7 1137.0 L1829.1 1137.3 L1829.5 1137.6 L1829.9 1137.9 L1834.1 1141.1 L1838.1 1144.2 L1842.1 1147.2 L1846.1 1150.1 L1850.1 1153.0 L1854.1 1155.7 L1858.1 1158.4 L1862.1 1161.1 L1866.1 1163.7 L1870.1 1166.3 L1874.1 1168.9 L1878.1 1171.5 L1882.1 1174.0 L1886.1 1176.5 L1890.1 1179.0 L1894.1 1181.5 L1898.1 1184.0 L1902.1 1186.4 L1906.1 1188.9 L1910.1 1191.3 L1914.1 1193.7 L1918.1 1196.1 L1922.1 1198.4 L1926.1 1200.7 L1930.1 1203.0 L1934.1 1205.2 L1938.1 1207.5 L1942.1 1209.7 L1946.1 1211.9 L1950.1 1214.2 L1954.1 1216.4 L1958.1 1218.6 L1962.1 1220.8 L1966.1 1223.0 L1970.1 1225.2 L1974.1 1227.3 L1978.1 1229.5 L1982.1 1231.7 L1986.1 1233.8 L1990.1 1236.0 L1994.1 1238.1 L1998.1 1240.3 L2002.1 1242.5 L2006.1 1244.7 L2010.1 1246.9 L2014.1 1249.0 L2018.1 1251.2 L2022.1 1253.4 L2026.1 1255.6 L2030.1 1257.8 L2034.1 1259.9 L2038.1 1262.1 L2042.1 1264.3 L2046.1 1266.4 L2050.1 1268.6 L2054.1 1270.8 L2058.1 1272.9 L2062.1 1275.1 L2066.1 1277.2 L2070.1 1279.4 L2074.1 1281.5 L2078.1 1283.7 L2082.1 1285.8 L2086.1 1287.9 L2090.1 1290.1 L2094.1 1292.2 L2098.1 1294.4 L2102.1 1296.5 L2106.1 1298.7 L2110.1 1300.8 L2114.1 1303.0 L2118.1 1305.2 L2122.1 1307.3 L2126.1 1309.5 L2130.1 1311.6 L2134.1 1313.8 L2138.1 1315.9 L2142.1 1318.1 L2146.1 1320.2 L2150.1 1322.4 L2154.1 1324.5 L2158.1 1326.7 L2162.1 1328.8 L2166.1 1331.0 L2170.1 1333.1 L2174.1 1335.3 L2178.1 1337.4 L2182.1 1339.6 L2186.1 1341.7 L2190.1 1343.9 L2194.1 1346.0 L2198.1 1348.1 L2202.1 1350.3 L2206.1 1352.4 L2210.1 1354.6 L2214.1 1356.7 L2218.1 1358.8 L2222.1 1361.0 L2226.1 1363.1 L2230.1 1365.2 L2234.1 1367.4 L2238.1 1369.5 L2242.1 1371.6 L2246.1 1373.8 L2250.1 1375.9 L2254.1 1378.0 L2258.1 1380.2 L2259.5 1380.9" fill="none" stroke="#0000ff" stroke-width="9.2" stroke-linejoin="bevel" filter="url(#b4)"/>
<path d="M1736.5 113.75 H1917.5" stroke="#ff0000" stroke-width="15" stroke-linecap="round" fill="none"/>
<path d="M1776.2 829.1 H1957" stroke="#0070c0" stroke-width="16" stroke-linecap="round" fill="none"/>
<text x="215.2" y="62.2" font-size="68.0" text-anchor="end" style="font-family:'Liberation Serif','Noto Serif CJK SC',serif" >40</text>
<text x="215.2" y="189.7" font-size="68.0" text-anchor="end" style="font-family:'Liberation Serif','Noto Serif CJK SC',serif" >20</text>
<text x="215.0" y="322.2" font-size="68.0" text-anchor="end" style="font-family:'Liberation Serif','Noto Serif CJK SC',serif" >0</text>
<text x="214.0" y="459.7" font-size="68.0" text-anchor="end" style="font-family:'Liberation Serif','Noto Serif CJK SC',serif" >–20</text>
<text x="214.0" y="597.2" font-size="68.0" text-anchor="end" style="font-family:'Liberation Serif','Noto Serif CJK SC',serif" >–40</text>
<text x="214.0" y="712.2" font-size="68.0" text-anchor="end" style="font-family:'Liberation Serif','Noto Serif CJK SC',serif" >–60</text>
<text x="201.5" y="792.2" font-size="68.0" text-anchor="end" style="font-family:'Liberation Serif','Noto Serif CJK SC',serif" >50</text>
<text x="185.5" y="1007.2" font-size="68.0" text-anchor="end" style="font-family:'Liberation Serif','Noto Serif CJK SC',serif" >0</text>
<text x="201.5" y="1237.2" font-size="68.0" text-anchor="end" style="font-family:'Liberation Serif','Noto Serif CJK SC',serif" >–50</text>
<text x="200.5" y="1422.7" font-size="68.0" text-anchor="end" style="font-family:'Liberation Serif','Noto Serif CJK SC',serif" >–100</text>
<text transform="translate(72.0 372.5) rotate(-90)" font-size="68" text-anchor="middle" style="font-family:'Liberation Serif','Noto Serif CJK SC',serif">Magnitude(dB)</text>
<text transform="translate(67.0 1101.5) rotate(-90)" font-size="68" text-anchor="middle" style="font-family:'Liberation Serif','Noto Serif CJK SC',serif">Magnitude(dB)</text>
<text x="184.5" y="1511.5" font-size="68" style="font-family:'Liberation Serif','Noto Serif CJK SC',serif">10<tspan x="249.0" dy="-28.2" font-size="39">1</tspan></text>
<text x="685.8" y="1511.5" font-size="68" style="font-family:'Liberation Serif','Noto Serif CJK SC',serif">10<tspan x="752.8" dy="-27.5" font-size="39">2</tspan></text>
<text x="1188.2" y="1510.3" font-size="68" style="font-family:'Liberation Serif','Noto Serif CJK SC',serif">10<tspan x="1254.5" dy="-28.8" font-size="39">3</tspan></text>
<text x="1693.8" y="1510.3" font-size="68" style="font-family:'Liberation Serif','Noto Serif CJK SC',serif">10<tspan x="1760.8" dy="-30.9" font-size="39">4</tspan></text>
<text x="2183.8" y="1502.8" font-size="68" style="font-family:'Liberation Serif','Noto Serif CJK SC',serif">10<tspan x="2250.8" dy="-30.8" font-size="39">5</tspan></text>
<text x="1064" y="1591.8" font-size="66.5" style="font-family:'Liberation Serif','Noto Serif CJK SC',serif">Frequency<tspan x="1347" dy="-3" font-size="57">（</tspan><tspan x="1410.3" dy="3" font-size="66.5">rad/s</tspan><tspan x="1546" dy="-3" font-size="57">）</tspan></text>
<text x="1953.0" y="157.0" font-size="120.0" text-anchor="start" style="font-family:'Liberation Serif',serif;font-style:italic" >G</text>
<text x="2033.5" y="187.0" font-size="65.0" text-anchor="start" style="font-family:'Liberation Serif',serif;font-style:italic;stroke:#000;stroke-width:1.3px;stroke-linejoin:round" >u</text>
<text x="2072.0" y="204.0" font-size="46.0" text-anchor="start" style="font-family:'Liberation Serif',serif;font-style:italic" >j</text>
<text x="2106.0" y="184.0" font-size="66.0" text-anchor="start" style="font-family:'Liberation Serif','Noto Serif CJK SC',serif" >–</text>
<text x="2145.5" y="187.0" font-size="65.0" text-anchor="start" style="font-family:'Liberation Serif',serif;font-style:italic;stroke:#000;stroke-width:1.3px;stroke-linejoin:round" >i</text>
<text x="2157.5" y="204.0" font-size="46.5" text-anchor="start" style="font-family:'Liberation Serif','Noto Serif CJK SC',serif" >1</text>
<text x="2188.0" y="204.0" font-size="46.0" text-anchor="start" style="font-family:'Liberation Serif',serif;font-style:italic" >j</text>
<text x="1974.3" y="866.0" font-size="112.0" text-anchor="start" style="font-family:'Liberation Serif',serif;font-style:italic" >G</text>
<text x="2049.5" y="893.0" font-size="63.0" text-anchor="start" style="font-family:'Liberation Serif',serif;font-style:italic;stroke:#000;stroke-width:1.3px;stroke-linejoin:round" >u</text>
<text x="2087.0" y="911.0" font-size="44.0" text-anchor="start" style="font-family:'Liberation Serif',serif;font-style:italic" >j</text>
<text x="2115.0" y="892.0" font-size="64.0" text-anchor="start" style="font-family:'Liberation Serif','Noto Serif CJK SC',serif" >–</text>
<text x="2153.5" y="893.0" font-size="63.0" text-anchor="start" style="font-family:'Liberation Serif',serif;font-style:italic;stroke:#000;stroke-width:1.3px;stroke-linejoin:round" >i</text>
<text x="2166.5" y="910.0" font-size="43.5" text-anchor="start" style="font-family:'Liberation Serif','Noto Serif CJK SC',serif" >2</text>
<text x="2202.0" y="911.0" font-size="44.0" text-anchor="start" style="font-family:'Liberation Serif',serif;font-style:italic" >j</text>
</svg>
</body></html>
